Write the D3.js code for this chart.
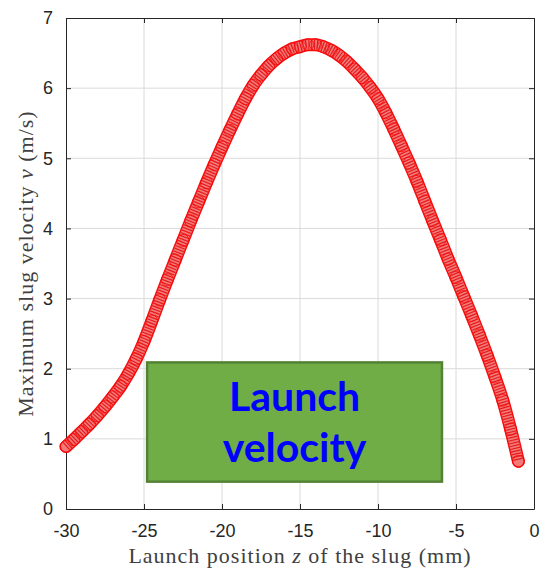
<!DOCTYPE html>
<html>
<head>
<meta charset="utf-8">
<script src="https://cdn.jsdelivr.net/npm/d3@7"></script>
<style>
  body { margin: 0; background: #fff; }
  svg { display: block; }
</style>
</head>
<body>
<script>
// launch position z (mm) and max slug velocity v (m/s)
const zPos = [-30, -29.5, -29, -28.5, -28, -27.5, -27, -26.5, -26, -25.5,
    -25, -24.5, -24, -23.5, -23, -22.5, -22, -21.5, -21, -20.5,
    -20, -19.5, -19, -18.5, -18, -17.5, -17, -16.5, -16, -15.5,
    -15, -14.5, -14, -13.5, -13, -12.5, -12, -11.5, -11, -10.5,
    -10, -9.5, -9, -8.5, -8, -7.5, -7, -6.5, -6, -5.5,
    -5, -4.5, -4, -3.5, -3, -2.5, -2, -1.5, -1]
const vMax = [0.89, 0.99, 1.10, 1.21, 1.33, 1.46, 1.60, 1.75, 1.93, 2.14,
    2.39, 2.68, 2.98, 3.27, 3.55, 3.83, 4.11, 4.38, 4.65, 4.91,
    5.16, 5.40, 5.63, 5.85, 6.04, 6.19, 6.32, 6.42, 6.50, 6.56,
    6.59, 6.62, 6.62, 6.59, 6.54, 6.47, 6.38, 6.27, 6.15, 6.01,
    5.85, 5.65, 5.42, 5.18, 4.93, 4.67, 4.39, 4.11, 3.84, 3.56,
    3.30, 3.03, 2.76, 2.48, 2.19, 1.88, 1.55, 1.14, 0.68]

const xTicks = [-30, -25, -20, -15, -10, -5, 0]
const yTicks = [0, 1, 2, 3, 4, 5, 6, 7]

// annotation box, in data units
const boxX = [-24.8, -5.9]
const boxY = [0.39, 2.09]
const boxLines = ["Launch", "velocity"]

const W = 545, H = 572
const margin = {top: 18, right: 11, bottom: 63, left: 66}
const width = W - margin.left - margin.right
const height = H - margin.top - margin.bottom

const svg = d3.select('body')
    .append('svg')
    .attr('width', W)
    .attr('height', H)
    .append('g')
    .attr("transform", `translate(${margin.left},${margin.top})`);

const x = d3.scaleLinear().domain([-30, 0]).range([0, width])
const y = d3.scaleLinear().domain([0, 7]).range([height, 0])

// grid
svg.append('g').selectAll('line')
    .data(xTicks.slice(1, -1))
    .join('line')
    .attr('x1', d => x(d)).attr('x2', d => x(d))
    .attr('y1', 0).attr('y2', height)
    .attr('stroke', '#dadada')
svg.append('g').selectAll('line')
    .data(yTicks.slice(1, -1))
    .join('line')
    .attr('y1', d => y(d)).attr('y2', d => y(d))
    .attr('x1', 0).attr('x2', width)
    .attr('stroke', '#dadada')

// axes, matlab style: ticks inward on all four sides
const fmt = d => String(d)
const styleAxis = g => {
    g.select('.domain').attr('stroke', '#262626')
    g.selectAll('.tick line').attr('stroke', '#262626')
    g.selectAll('.tick text')
        .attr('fill', '#262626')
        .style('font-family', '"Liberation Sans", Arial, sans-serif')
        .style('font-size', '18px')
}
svg.append('g')
    .attr("transform", `translate(0, ${height})`)
    .call(d3.axisBottom(x).tickValues(xTicks).tickFormat(fmt).tickSizeInner(-5).tickSizeOuter(0).tickPadding(15))
    .call(styleAxis)
svg.append('g')
    .call(d3.axisLeft(y).tickValues(yTicks).tickFormat(fmt).tickSizeInner(-5).tickSizeOuter(0).tickPadding(13))
    .call(styleAxis)
svg.append('g')
    .call(d3.axisTop(x).tickValues(xTicks).tickSizeInner(-5).tickSizeOuter(0).tickFormat(''))
    .call(styleAxis)
svg.append('g')
    .attr("transform", `translate(${width}, 0)`)
    .call(d3.axisRight(y).tickValues(yTicks).tickSizeInner(-5).tickSizeOuter(0).tickFormat(''))
    .call(styleAxis)

// data: dense band of circle markers
const data = zPos.map((z, i) => ({z: z, v: vMax[i]}))
const line = d3.line()
    .x(d => x(d.z))
    .y(d => y(d.v))
    .curve(d3.curveMonotoneX)

svg.append('path')
    .datum(data)
    .attr('d', line)
    .attr('fill', 'none')
    .attr('stroke', '#f41010')
    .attr('stroke-width', 13)
    .attr('stroke-linecap', 'round')
svg.append('path')
    .datum(data)
    .attr('d', line)
    .attr('fill', 'none')
    .attr('stroke', '#f47a7a')
    .attr('stroke-width', 10)
    .attr('stroke-linecap', 'round')
svg.append('path')
    .datum(data)
    .attr('d', line)
    .attr('fill', 'none')
    .attr('stroke', '#e41c1c')
    .attr('stroke-width', 10)
    .attr('stroke-dasharray', '1.2,1.6')

svg.append('g').selectAll('circle')
    .data(data)
    .join('circle')
    .attr('cx', d => x(d.z))
    .attr('cy', d => y(d.v))
    .attr('r', 6)
    .attr('fill', 'none')
    .attr('stroke', '#ff0000')
    .attr('stroke-width', 1)
    .attr('stroke-opacity', 0.7)

// annotation box
svg.append('rect')
    .attr('x', x(boxX[0]))
    .attr('y', y(boxY[1]))
    .attr('width', x(boxX[1]) - x(boxX[0]))
    .attr('height', y(boxY[0]) - y(boxY[1]))
    .attr('fill', '#70ad47')
    .attr('stroke', '#548235')
    .attr('stroke-width', 2.5)
svg.append('g').selectAll('text')
    .data(boxLines)
    .join('text')
    .attr('x', (x(boxX[0]) + x(boxX[1])) / 2)
    .attr('y', (d, i) => y(boxY[1]) + 49 + i * 51)
    .attr('text-anchor', 'middle')
    .attr('fill', '#0000ff')
    .style('font-family', 'Lato, "Open Sans", sans-serif')
    .style('font-weight', 'bold')
    .style('font-size', '41px')
    .text(d => d)

// axis labels
const xl = svg.append('text')
    .attr('x', width / 2)
    .attr('y', height + 54)
    .attr('text-anchor', 'middle')
    .attr('fill', '#404040')
    .style('font-family', '"Liberation Serif", "Times New Roman", serif')
    .style('font-size', '22px')
    .style('letter-spacing', '1px')
xl.append('tspan').text('Launch position ')
xl.append('tspan').style('font-style', 'italic').text('z')
xl.append('tspan').text(' of the slug (mm)')

const yl = svg.append('text')
    .attr('transform', `translate(-33, ${height / 2}) rotate(-90)`)
    .attr('text-anchor', 'middle')
    .attr('fill', '#404040')
    .style('font-family', '"Liberation Serif", "Times New Roman", serif')
    .style('font-size', '22px')
    .style('letter-spacing', '1px')
yl.append('tspan').text('Maximum slug velocity ')
yl.append('tspan').style('font-style', 'italic').text('v')
yl.append('tspan').text(' (m/s)')
</script>
</body>
</html>
